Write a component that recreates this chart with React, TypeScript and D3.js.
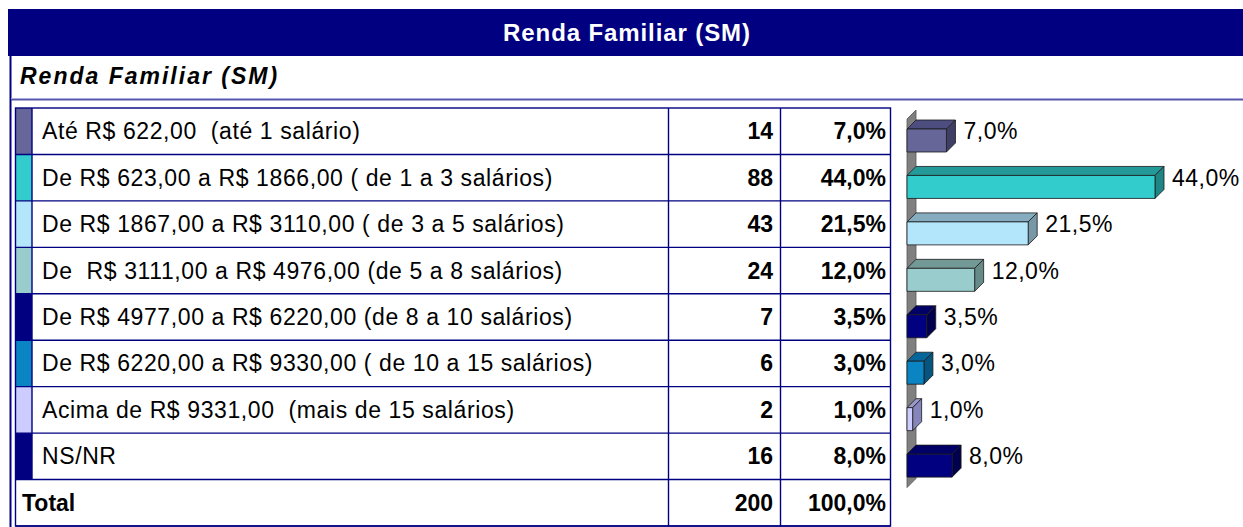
import React from "react";
import { scaleBand, scaleLinear, format } from "d3";

const title = "Renda Familiar (SM)";
const categories = [
  "Até R$ 622,00  (até 1 salário)",
  "De R$ 623,00 a R$ 1866,00 ( de 1 a 3 salários)",
  "De R$ 1867,00 a R$ 3110,00 ( de 3 a 5 salários)",
  "De  R$ 3111,00 a R$ 4976,00 (de 5 a 8 salários)",
  "De R$ 4977,00 a R$ 6220,00 (de 8 a 10 salários)",
  "De R$ 6220,00 a R$ 9330,00 ( de 10 a 15 salários)",
  "Acima de R$ 9331,00  (mais de 15 salários)",
  "NS/NR",
];
const counts = [14, 88, 43, 24, 7, 6, 2, 16];
const percents = [7.0, 44.0, 21.5, 12.0, 3.5, 3.0, 1.0, 8.0];
const totalLabel = "Total";
const totalCount = 200;
const totalPercent = 100.0;

// bar colours: front / top / side
const frontColors = ["#666699", "#33cccc", "#b3e6fb", "#99cccc", "#000080", "#0a84c2", "#ccccff", "#000080"];
const topColors = ["#4d4d80", "#239999", "#86adbf", "#739997", "#000066", "#066699", "#9999cc", "#000066"];
const sideColors = ["#3f3f66", "#1f8585", "#7898a8", "#658a88", "#00004d", "#05557f", "#8585bb", "#00004d"];

const FONT = "'Liberation Sans', Arial, sans-serif";
const NAVY = "#000080";
const fmtPct = (v: number) => format(".1f")(v).replace(".", ",") + "%";

export default function App() {
  const W = 1243;
  const H = 527;
  const tX0 = 15.5;
  const tX1 = 890.5;
  const colCount = 668.5;
  const colPct = 780.5;
  const stripX1 = 32;

  const rows = [...categories, totalLabel];
  const y = scaleBand().domain(rows).range([108, 526]).padding(0);
  const bw = y.bandwidth();
  const x = scaleLinear().domain([0, 44]).range([0, 248]);

  const barX0 = 907;
  const depth = 9;
  const faceOff = 21;
  const faceH = 23;

  const wallTop = (y(categories[0]) as number) + 11;
  const wallBot = (y(categories[categories.length - 1]) as number) + bw + 8;

  return (
    <svg width={W} height={H} style={{ position: "absolute", left: 0, top: 0, background: "#fff" }} fontFamily={FONT}>
      {/* header */}
      <rect x={8} y={9} width={W - 8} height={47} fill={NAVY} />
      <text x={627} y={41} textAnchor="middle" fill="#fff" fontWeight="bold" fontSize={24} letterSpacing={0.9}>
        {title}
      </text>
      <line x1={10.5} x2={10.5} y1={56} y2={H} stroke={NAVY} strokeWidth={2} />
      <text x={20} y={84} fontWeight="bold" fontStyle="italic" fontSize={23} letterSpacing={2}>
        {title}
      </text>
      <line x1={11} x2={W} y1={98.5} y2={98.5} stroke="#aaaadd" strokeWidth={1} />
      <line x1={11} x2={W} y1={99.7} y2={99.7} stroke="#5555aa" strokeWidth={1.4} />

      {/* table */}
      {categories.map((c, i) => (
        <rect key={"s" + i} x={tX0} y={y(c)} width={stripX1 - tX0} height={bw} fill={frontColors[i]} />
      ))}
      {rows.map((r) => (
        <line key={"h" + r} x1={tX0} x2={tX1} y1={(y(r) as number) + bw} y2={(y(r) as number) + bw} stroke={NAVY} strokeWidth={1.4} />
      ))}
      <rect x={tX0} y={108} width={tX1 - tX0} height={526 - 108} fill="none" stroke={NAVY} strokeWidth={1.4} />
      <line x1={stripX1} x2={stripX1} y1={108} y2={y(totalLabel)} stroke={NAVY} strokeWidth={1.4} />
      <line x1={colCount} x2={colCount} y1={108} y2={526} stroke={NAVY} strokeWidth={1.4} />
      <line x1={colPct} x2={colPct} y1={108} y2={526} stroke={NAVY} strokeWidth={1.4} />

      {categories.map((c, i) => {
        const cy = (y(c) as number) + bw / 2 + 8;
        return (
          <g key={"t" + i} fontSize={23}>
            <text x={42} y={cy} letterSpacing={0.6} xmlSpace="preserve" style={{ whiteSpace: "pre" }}>{c}</text>
            <text x={773} y={cy} textAnchor="end" fontWeight="bold">{counts[i]}</text>
            <text x={886} y={cy} textAnchor="end" fontWeight="bold">{fmtPct(percents[i])}</text>
          </g>
        );
      })}
      <g fontSize={23} fontWeight="bold">
        <text x={22} y={(y(totalLabel) as number) + bw / 2 + 8}>{totalLabel}</text>
        <text x={773} y={(y(totalLabel) as number) + bw / 2 + 8} textAnchor="end">{totalCount}</text>
        <text x={886} y={(y(totalLabel) as number) + bw / 2 + 8} textAnchor="end">{fmtPct(totalPercent)}</text>
      </g>

      {/* 3D bars */}
      <polygon
        points={`${barX0},${wallTop} ${barX0 + depth},${wallTop - depth} ${barX0 + depth},${wallBot - depth} ${barX0},${wallBot}`}
        fill="#808080"
        stroke="#555"
        strokeWidth={0.8}
      />
      {categories.map((c, i) => {
        const fy = (y(c) as number) + faceOff;
        const len = x(percents[i]);
        const xr = barX0 + len;
        return (
          <g key={"b" + i} stroke="#1a1a1a" strokeWidth={0.8} strokeLinejoin="round">
            <polygon
              points={`${barX0},${fy} ${barX0 + depth},${fy - depth} ${xr + depth},${fy - depth} ${xr},${fy}`}
              fill={topColors[i]}
            />
            <polygon
              points={`${xr},${fy} ${xr + depth},${fy - depth} ${xr + depth},${fy + faceH - depth} ${xr},${fy + faceH}`}
              fill={sideColors[i]}
            />
            <rect x={barX0} y={fy} width={len} height={faceH} fill={frontColors[i]} />
            <text x={xr + depth + 8} y={(y(c) as number) + bw / 2 + 8} fontSize={23} letterSpacing={0.5} stroke="none" fill="#000">
              {fmtPct(percents[i])}
            </text>
          </g>
        );
      })}
    </svg>
  );
}
